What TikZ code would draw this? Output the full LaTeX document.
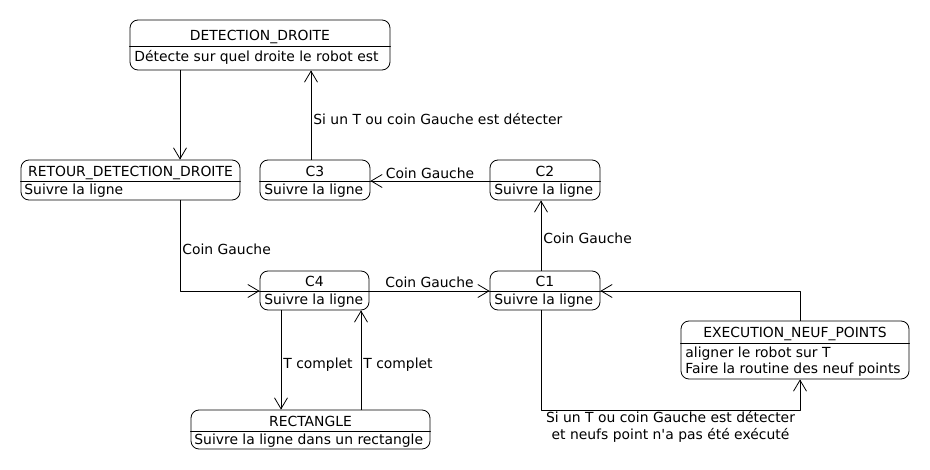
\documentclass[tikz,border=0pt]{standalone}
\usepackage{fontspec}
\setmainfont{DejaVu Sans}
\usepackage{tikz}
\usetikzlibrary{arrows.meta}

\begin{document}
\begin{tikzpicture}[line cap=round,line join=round,x=1pt,y=-1pt,line width=0.8pt,
  >={Straight Barb[length=11pt,width=13pt]},
  every node/.style={font=\fontsize{13.9}{17}\selectfont},
  etat/.style={draw,rounded corners=8pt,inner sep=0pt},
  titre/.style={anchor=base,inner sep=0pt},
  corps/.style={anchor=base west,inner sep=0pt},
  lbl/.style={inner sep=2pt,align=center}]
\useasboundingbox (0,0) rectangle (930,470);
% etats
\node[etat,minimum width=260pt,minimum height=50pt] (detect) at (260,45) {};
\draw (detect.west |- 0,46) -- (detect.east |- 0,46);
\node[titre] (detectT) at (260,41) {DETECTION\_DROITE};
\node[corps] (detectB) at (134,62) {Détecte sur quel droite le robot est};
\node[etat,minimum width=219pt,minimum height=40pt] (retour) at (130.5,180) {};
\draw (retour.west |- 0,181) -- (retour.east |- 0,181);
\node[titre] (retourT) at (130.5,176.5) {RETOUR\_DETECTION\_DROITE};
\node[corps] (retourB) at (24,195) {Suivre la ligne};
\node[etat,minimum width=110pt,minimum height=40pt] (cIII) at (315,180) {};
\draw (cIII.west |- 0,181) -- (cIII.east |- 0,181);
\node[titre] (cIIIT) at (315,176.5) {C3};
\node[corps] (cIIIB) at (264,195) {Suivre la ligne};
\node[etat,minimum width=110pt,minimum height=40pt] (cII) at (545,180) {};
\draw (cII.west |- 0,181) -- (cII.east |- 0,181);
\node[titre] (cIIT) at (545,176.5) {C2};
\node[corps] (cIIB) at (494,195) {Suivre la ligne};
\node[etat,minimum width=109pt,minimum height=39pt] (cIV) at (314.5,290.5) {};
\draw (cIV.west |- 0,291) -- (cIV.east |- 0,291);
\node[titre] (cIVT) at (314.5,286.5) {C4};
\node[corps] (cIVB) at (264,305) {Suivre la ligne};
\node[etat,minimum width=110pt,minimum height=39pt] (cI) at (545,290.5) {};
\draw (cI.west |- 0,291) -- (cI.east |- 0,291);
\node[titre] (cIT) at (545,286.5) {C1};
\node[corps] (cIB) at (494,305) {Suivre la ligne};
\node[etat,minimum width=239pt,minimum height=39pt] (rect) at (310.5,429.5) {};
\draw (rect.west |- 0,431) -- (rect.east |- 0,431);
\node[titre] (rectT) at (310.5,426.5) {RECTANGLE};
\node[corps] (rectB) at (194,444.5) {Suivre la ligne dans un rectangle};
\node[etat,minimum width=228pt,minimum height=58pt] (exec) at (795,350) {};
\draw (exec.west |- 0,343) -- (exec.east |- 0,343);
\node[titre] (execT) at (795,337.5) {EXECUTION\_NEUF\_POINTS};
\node[corps] (execB) at (685,358) {aligner le robot sur T};
\node[corps] (execC) at (685,374) {Faire la routine des neuf points};
% transitions
\draw[->] (180,0 |- detect.south) -- (180,0 |- retour.north);
\draw[->] (311,0 |- cIII.north) -- node[lbl,right,yshift=-4pt] {Si un T ou coin Gauche est détecter} (311,0 |- detect.south);
\draw[->] (cII.west |- 0,181) -- node[lbl,above] {Coin Gauche} (cIII.east |- 0,181);
\draw[->] (180,0 |- retour.south) -- node[lbl,right,yshift=-3.5pt] {Coin Gauche} (180,291) -- (cIV.west |- 0,291);
\draw[->] (cIV.east |- 0,291) -- node[lbl,above,yshift=1pt] {Coin Gauche} (cI.west |- 0,291);
\draw[->] (541,0 |- cI.north) -- node[lbl,right,yshift=-3pt] {Coin Gauche} (541,0 |- cII.south);
\draw[->] (281,0 |- cIV.south) -- node[lbl,right,yshift=-5pt] {T complet} (281,0 |- rect.north);
\draw[->] (361,0 |- rect.north) -- node[lbl,right,yshift=-5pt] {T complet} (361,0 |- cIV.south);
\draw[->] (800,0 |- exec.north) -- (800,291) -- (cI.east |- 0,291);
\draw[->] (541,0 |- cI.south) -- (541,410) -- node[lbl,below,inner sep=1pt] {Si un T ou coin Gauche est détecter\\et neufs point n\textquotesingle a pas été exécuté} (800,410) -- (800,0 |- exec.south);
\end{tikzpicture}
\end{document}
